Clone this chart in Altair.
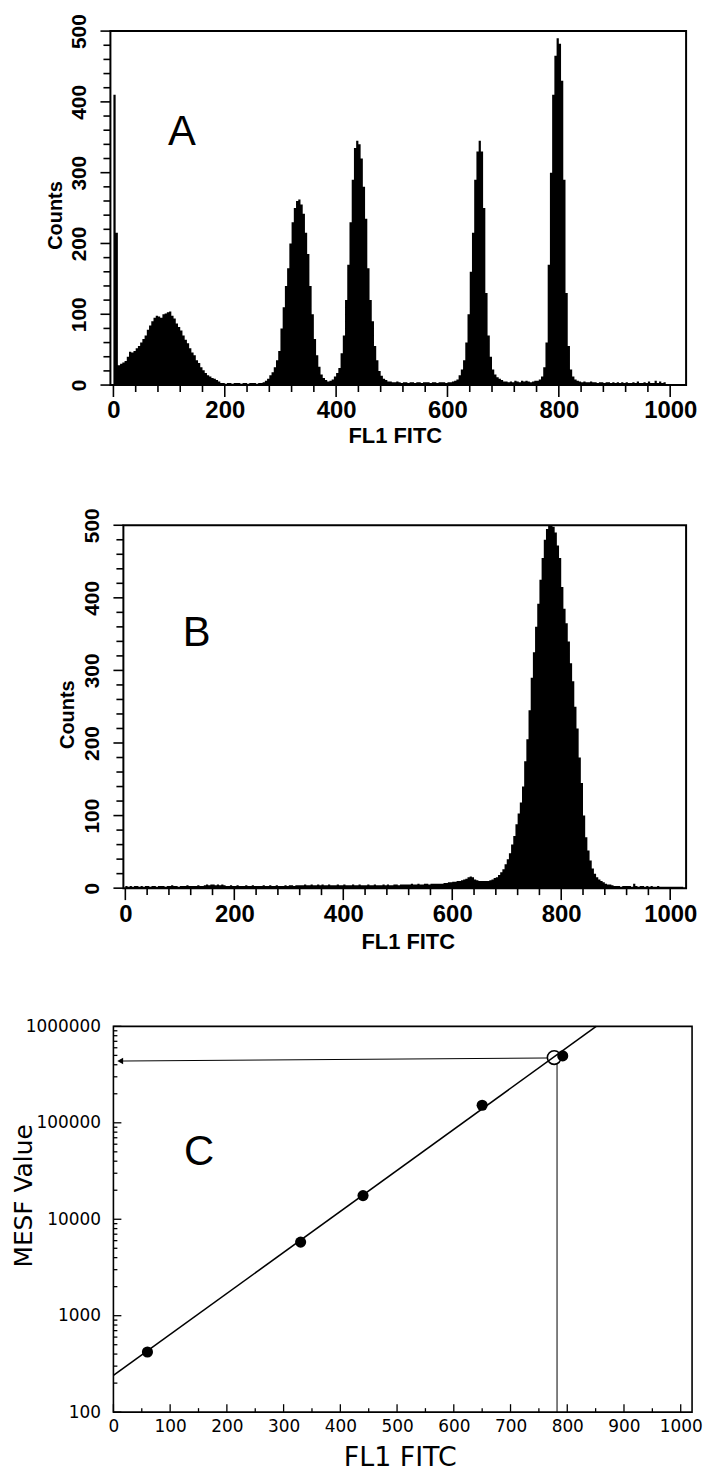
import altair as alt
import pandas as pd

# ---------------- data ----------------
BIN_WIDTH = 4  # FL1 channel width of each histogram bin

# Panel A: calibration bead mixture histogram (counts per 4-channel bin, from 0)
A_COUNTS = [
    410, 215, 28, 30, 32, 34, 40, 47, 46, 48, 52, 55, 60, 65, 70, 78,
    84, 90, 95, 98, 97, 95, 100, 101, 103, 104, 98, 94, 87, 82, 77, 70,
    64, 59, 52, 46, 42, 35, 31, 25, 21, 17, 14, 12, 10, 9, 7, 5,
    3, 3, 2, 3, 3, 2, 3, 3, 3, 2, 3, 3, 2, 3, 3, 3,
    2, 3, 3, 4, 6, 9, 14, 18, 25, 35, 48, 80, 110, 140, 165, 200,
    230, 250, 260, 262, 255, 242, 215, 185, 140, 100, 65, 42, 26, 15, 10, 7,
    5, 6, 8, 12, 17, 24, 45, 70, 120, 170, 230, 290, 335, 345, 340, 320,
    280, 235, 165, 120, 90, 55, 35, 20, 13, 9, 7, 5, 5, 4, 4, 5,
    4, 3, 4, 4, 3, 4, 4, 3, 4, 4, 3, 4, 4, 4, 3, 4,
    4, 3, 4, 4, 4, 3, 4, 4, 5, 6, 8, 14, 22, 35, 60, 100,
    160, 215, 290, 330, 345, 330, 250, 130, 70, 40, 22, 15, 11, 9, 7, 5,
    5, 4, 5, 4, 6, 5, 4, 6, 5, 6, 5, 4, 5, 6, 6, 8,
    12, 25, 60, 170, 300, 410, 465, 490, 482, 430, 290, 130, 55, 22, 12, 8,
    6, 5, 4, 5, 4, 4, 5, 4, 4, 3, 4, 4, 3, 4, 4, 3,
    4, 3, 4, 3, 4, 3, 4, 3, 3, 4, 3, 5, 3, 3, 4, 3,
    5, 3, 3, 6, 3, 5, 3, 4, 0, 0, 0, 0, 0, 0, 0, 0,
]

# Panel B: sample histogram
B_COUNTS = [
    3, 2, 3, 2, 3, 3, 2, 3, 2, 3, 3, 2, 3, 3, 2, 3,
    3, 3, 2, 3, 3, 4, 3, 3, 2, 3, 3, 3, 4, 3, 3, 3,
    3, 4, 3, 3, 4, 5, 4, 5, 5, 4, 5, 4, 5, 4, 3, 3,
    4, 3, 3, 4, 3, 3, 3, 4, 3, 3, 4, 3, 3, 3, 3, 4,
    3, 3, 4, 3, 3, 4, 3, 3, 3, 4, 3, 4, 4, 3, 4, 4,
    4, 4, 5, 4, 4, 5, 4, 4, 5, 4, 5, 4, 4, 5, 4, 4,
    4, 5, 4, 4, 5, 4, 4, 4, 5, 4, 4, 5, 4, 4, 4, 5,
    4, 4, 5, 4, 4, 4, 5, 4, 5, 4, 4, 5, 5, 4, 5, 5,
    5, 5, 5, 6, 5, 5, 6, 5, 5, 6, 6, 5, 6, 6, 6, 6,
    6, 6, 7, 7, 8, 8, 9, 9, 10, 10, 11, 12, 13, 15, 16, 15,
    12, 11, 10, 10, 10, 10, 10, 11, 12, 14, 15, 18, 22, 26, 33, 40,
    48, 60, 72, 88, 103, 118, 140, 175, 205, 245, 290, 325, 360, 392, 425, 455,
    480, 495, 500, 500, 498, 490, 472, 455, 415, 385, 365, 340, 310, 285, 250, 220,
    180, 145, 100, 70, 52, 38, 27, 20, 15, 12, 10, 8, 6, 5, 5, 4,
    3, 3, 3, 2, 3, 3, 3, 3, 2, 6, 3, 2, 3, 3, 2, 3,
    2, 3, 2, 2, 3, 2, 2, 2, 2, 2, 2, 2, 2, 2, 2, 2,
]

# Panel C: calibration curve
C_BEAD_FL1 = [60, 330, 440, 650, 792]
C_BEAD_MESF = [420, 5800, 17600, 152000, 494000]
C_FIT_FL1 = [0, 851]
C_FIT_MESF = [240, 1000000]
C_SAMPLE_FL1 = [777]
C_SAMPLE_MESF = [475000]
C_HGUIDE_FL1 = [12, 766]
C_HGUIDE_MESF = [437000, 470000]
C_VGUIDE_FL1 = [782, 782]
C_VGUIDE_MESF = [405000, 100]

# axis ticks / labels
HIST_X_LABELS = [0, 200, 400, 600, 800, 1000]
HIST_X_MINOR = [v for v in range(40, 1001, 40) if v % 200 != 0]
HIST_Y_LABELS = [0, 100, 200, 300, 400, 500]
HIST_Y_MINOR = [v for v in range(20, 500, 20) if v % 100 != 0]
C_X_LABELS = list(range(0, 1001, 100))
C_X_MINOR = list(range(50, 1001, 100))
C_Y_LABELS = [100, 1000, 10000, 100000, 1000000]
C_Y_MINOR = [m * 10 ** e for e in range(2, 6) for m in range(2, 10)]

PANEL_LETTERS = ["A", "B", "C"]
LETTER_X = [123, 131, 151]
LETTER_Y = [339, 333, 36900]

FONT_AB = "Liberation Sans, Arial, sans-serif"
FONT_C = "DejaVu Sans, Verdana, sans-serif"

# ---------------- layout (pixels) ----------------
# all panels share the same plot origin; frames are drawn as marks
LEFT_EXT = 102  # room left of the plot origin


def hist_frame(counts):
    xs = [i * BIN_WIDTH for i in range(len(counts))] + [len(counts) * BIN_WIDTH]
    ys = list(counts) + [counts[-1]]
    return pd.DataFrame({"x": xs, "count": ys})


def px(v, dom, width):
    return (v - dom[0]) * width / (dom[1] - dom[0])


def anchor(T, W, H, R, Bm):
    # invisible box that fixes each panel's layout cell
    return alt.Chart(pd.DataFrame({"k": [0]})).mark_rect(opacity=0).encode(
        x=alt.value(-LEFT_EXT), x2=alt.value(W + R), y=alt.value(-T), y2=alt.value(H + Bm)
    )


def hist_panel(counts, xdom, frame_x, W, H, T, R, Bm, idx, ylab_pad,
               counts_title_x, counts_title_y, xlab_pad, xtitle_pad, xtitle_x):
    xs = alt.Scale(domain=xdom, nice=False, zero=False)
    ys = alt.Scale(domain=[0, 500], nice=False, zero=False)
    ax_x = alt.Axis(
        values=HIST_X_LABELS, format="d", ticks=False, domain=False, grid=False,
        labelFont=FONT_AB, labelFontSize=24, labelFontWeight="bold", labelColor="black",
        labelPadding=xlab_pad, labelFlush=False, labelOverlap=False,
        title="FL1 FITC", titleFont=FONT_AB, titleFontSize=22,
        titleFontWeight="bold", titleColor="black", titlePadding=xtitle_pad,
        titleX=xtitle_x)
    ax_y = alt.Axis(
        values=HIST_Y_LABELS, format="d", ticks=False, domain=False, grid=False,
        labelFont=FONT_AB, labelFontSize=21, labelFontWeight="bold", labelColor="black",
        labelAngle=270, labelAlign="center", labelBaseline="bottom",
        labelPadding=ylab_pad, labelFlush=False, labelOverlap=False,
        title="Counts", titleFont=FONT_AB, titleFontSize=20,
        titleFontWeight="bold", titleColor="black", titleAngle=270,
        titleAlign="center", titleBaseline="middle",
        titleX=counts_title_x, titleY=counts_title_y)

    def X(f):
        return alt.X(f, scale=xs, axis=ax_x)

    def Y(f):
        return alt.Y(f, scale=ys, axis=ax_y)

    fx = px(frame_x[0], xdom, W)  # pixel x of the left frame edge

    area = alt.Chart(hist_frame(counts)).mark_area(
        interpolate="step-after", color="black", clip=True
    ).encode(x=X("x:Q"), y=Y("count:Q"))
    frame = alt.Chart(pd.DataFrame({
        "x": [frame_x[0]], "x2": [frame_x[1]], "y": [0], "y2": [500]
    })).mark_rect(fillOpacity=0, stroke="black", strokeWidth=2).encode(
        x=X("x:Q"), x2="x2:Q", y=Y("y:Q"), y2="y2:Q")
    xmaj = alt.Chart(pd.DataFrame({"v": HIST_X_LABELS})).mark_rule(
        color="black", strokeWidth=1.6).encode(
        x=X("v:Q"), y=alt.value(H), y2=alt.value(H + 12))
    xmin = alt.Chart(pd.DataFrame({"v": HIST_X_MINOR})).mark_rule(
        color="black", strokeWidth=1.6).encode(
        x=X("v:Q"), y=alt.value(H), y2=alt.value(H + 7))
    ymaj = alt.Chart(pd.DataFrame({"v": HIST_Y_LABELS})).mark_rule(
        color="black", strokeWidth=1.6).encode(
        y=Y("v:Q"), x=alt.value(fx), x2=alt.value(fx - 10))
    ymin = alt.Chart(pd.DataFrame({"v": HIST_Y_MINOR})).mark_rule(
        color="black", strokeWidth=1.6).encode(
        y=Y("v:Q"), x=alt.value(fx), x2=alt.value(fx - 7))
    letter = alt.Chart(pd.DataFrame({
        "x": [LETTER_X[idx]], "y": [LETTER_Y[idx]], "t": [PANEL_LETTERS[idx]]
    })).mark_text(font=FONT_AB, fontSize=42, align="center",
                  baseline="alphabetic", color="black").encode(
        x=X("x:Q"), y=Y("y:Q"), text="t:N")
    return alt.layer(area, frame, xmaj, xmin, ymaj, ymin, letter,
                     anchor(T, W, H, R, Bm)).properties(width=W, height=H)


# ---------------- panel A ----------------
A_XDOM = [-5.4, 1028.6]
panel_a = hist_panel(A_COUNTS, A_XDOM, A_XDOM, 579, 356, 18, 14, 88, 0,
                     ylab_pad=21, counts_title_x=-55, counts_title_y=185,
                     xlab_pad=14, xtitle_pad=3, xtitle_x=286)

# ---------------- panel B ----------------
B_XDOM = [-27.4, 1029.2]
B_FRAME = [-3.6, 1029.2]
panel_b = hist_panel(B_COUNTS, B_XDOM, B_FRAME, 579, 365, 51, 14, 79, 1,
                     ylab_pad=8, counts_title_x=-43, counts_title_y=190,
                     xlab_pad=15, xtitle_pad=5, xtitle_x=299)

# ---------------- panel C ----------------
C_W, C_H, C_T, C_R, C_B = 585, 388, 58, 8, 59
C_XDOM = [-5.3, 1020]
C_FRAME = [0, 1020]
xsC = alt.Scale(domain=C_XDOM, nice=False, zero=False)
ysC = alt.Scale(type="log", domain=[100, 1000000], nice=False)
ax_xc = alt.Axis(
    values=C_X_LABELS, format="d", ticks=False, domain=False, grid=False,
    labelFont=FONT_C, labelFontSize=17, labelColor="black", labelPadding=6,
    labelFlush=False, labelOverlap=False,
    title="FL1 FITC", titleFont=FONT_C, titleFontSize=27,
    titleFontWeight="normal", titleColor="black", titlePadding=11, titleX=291)
ax_yc = alt.Axis(
    values=C_Y_LABELS, format="d", ticks=False, domain=False, grid=False,
    labelFont=FONT_C, labelFontSize=17, labelColor="black", labelPadding=10,
    labelFlush=False, labelOverlap=False,
    title="MESF Value", titleFont=FONT_C, titleFontSize=25,
    titleFontWeight="normal", titleColor="black", titleAngle=270,
    titleAlign="center", titleBaseline="middle", titleX=-87, titleY=170)


def XC(f):
    return alt.X(f, scale=xsC, axis=ax_xc)


def YC(f):
    return alt.Y(f, scale=ysC, axis=ax_yc)


fxc = px(C_FRAME[0], C_XDOM, C_W)

frame_c = alt.Chart(pd.DataFrame({
    "x": [C_FRAME[0]], "x2": [C_FRAME[1]], "y": [100], "y2": [1000000]
})).mark_rect(fillOpacity=0, stroke="black", strokeWidth=1.6).encode(
    x=XC("x:Q"), x2="x2:Q", y=YC("y:Q"), y2="y2:Q")
fit = alt.Chart(pd.DataFrame({"x": C_FIT_FL1, "y": C_FIT_MESF})).mark_line(
    color="black", strokeWidth=1.6).encode(x=XC("x:Q"), y=YC("y:Q"))
beads = alt.Chart(pd.DataFrame({"x": C_BEAD_FL1, "y": C_BEAD_MESF})).mark_circle(
    color="black", size=125, opacity=1).encode(x=XC("x:Q"), y=YC("y:Q"))
sample = alt.Chart(pd.DataFrame({"x": C_SAMPLE_FL1, "y": C_SAMPLE_MESF})).mark_point(
    shape="circle", filled=False, color="black", size=190, strokeWidth=1.6,
    opacity=1).encode(x=XC("x:Q"), y=YC("y:Q"))
hguide = alt.Chart(pd.DataFrame({"x": C_HGUIDE_FL1, "y": C_HGUIDE_MESF})).mark_line(
    color="black", strokeWidth=1).encode(x=XC("x:Q"), y=YC("y:Q"))
arrow = alt.Chart(pd.DataFrame({"x": [C_HGUIDE_FL1[0]], "y": [C_HGUIDE_MESF[0]]})).mark_point(
    shape="triangle-left", filled=True, color="black", size=45, opacity=1).encode(
    x=XC("x:Q"), y=YC("y:Q"))
vguide = alt.Chart(pd.DataFrame({"x": C_VGUIDE_FL1, "y": C_VGUIDE_MESF})).mark_line(
    color="black", strokeWidth=1).encode(x=XC("x:Q"), y=YC("y:Q"))
cxmaj = alt.Chart(pd.DataFrame({"v": C_X_LABELS})).mark_rule(
    color="black", strokeWidth=1.3).encode(
    x=XC("v:Q"), y=alt.value(C_H), y2=alt.value(C_H - 8))
cxmin = alt.Chart(pd.DataFrame({"v": C_X_MINOR})).mark_rule(
    color="black", strokeWidth=1.3).encode(
    x=XC("v:Q"), y=alt.value(C_H), y2=alt.value(C_H - 4))
cymaj = alt.Chart(pd.DataFrame({"v": C_Y_LABELS})).mark_rule(
    color="black", strokeWidth=1.3).encode(
    y=YC("v:Q"), x=alt.value(fxc), x2=alt.value(fxc + 8))
cymin = alt.Chart(pd.DataFrame({"v": C_Y_MINOR})).mark_rule(
    color="black", strokeWidth=1.3).encode(
    y=YC("v:Q"), x=alt.value(fxc), x2=alt.value(fxc + 4))
letter_c = alt.Chart(pd.DataFrame({
    "x": [LETTER_X[2]], "y": [LETTER_Y[2]], "t": [PANEL_LETTERS[2]]
})).mark_text(font=FONT_AB, fontSize=42, align="center", baseline="alphabetic",
              color="black").encode(x=XC("x:Q"), y=YC("y:Q"), text="t:N")

panel_c = alt.layer(
    frame_c, fit, hguide, vguide, arrow, beads, sample, cxmaj, cxmin, cymaj, cymin,
    letter_c, anchor(C_T, C_W, C_H, C_R, C_B)
).properties(width=C_W, height=C_H)

chart = alt.vconcat(panel_a, panel_b, panel_c, spacing=0).properties(
    padding=0, background="white"
).configure_view(stroke="transparent")

chart.save("out.html", embed_options={"renderer": "svg", "actions": False})
